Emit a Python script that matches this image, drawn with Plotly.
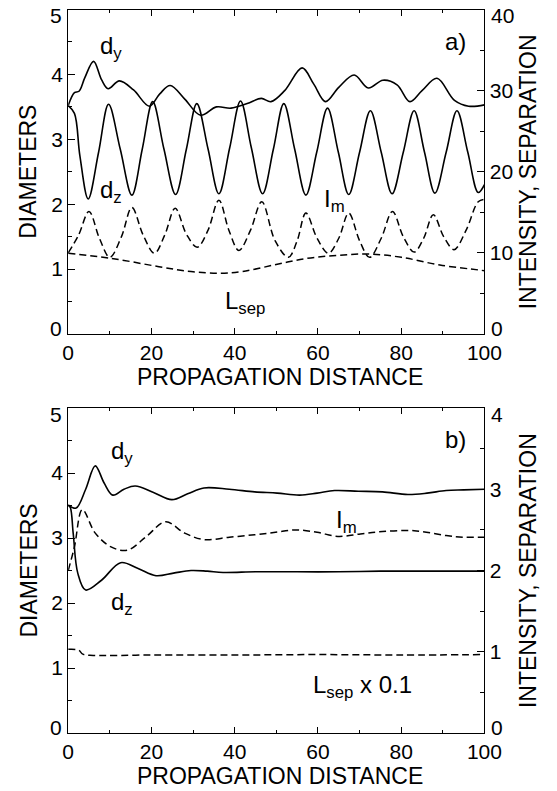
import plotly.graph_objects as go

# ---- panel a) : oscillating propagation ----
dy_a_x = [0, 1.5, 2.6, 4.0, 6.1, 8.0, 9.6, 12.3, 15.7, 19.5, 22.0, 24.5, 28.0, 31.8,
          35.6, 39.1, 43.0, 46.4, 48.7, 52.0, 56.2, 59.0, 61.8, 65.0, 68.7, 72.1,
          75.6, 79.0, 82.1, 85.0, 88.6, 92.8, 96.2, 100]
dy_a_y = [3.52, 3.72, 3.74, 3.95, 4.20, 3.92, 3.78, 3.90, 3.76, 3.51, 3.70, 3.83, 3.62, 3.37,
          3.50, 3.48, 3.55, 3.63, 3.58, 3.75, 4.10, 3.85, 3.58, 3.80, 3.99, 3.79,
          3.91, 3.84, 3.58, 3.75, 3.94, 3.60, 3.51, 3.53]

dz_a_x = [0, 1.5, 2.8, 4.8, 7.3, 9.7, 12.5, 15.3, 17.8, 20.3, 23.0, 25.8, 28.4, 30.9,
          33.6, 36.2, 38.8, 41.4, 44.0, 46.7, 49.3, 51.8, 54.4, 57.1, 59.7, 62.3,
          64.9, 67.4, 70.0, 72.6, 75.2, 77.8, 80.5, 83.1, 85.6, 88.1, 90.8, 93.4,
          96.0, 98.5, 100]
dz_a_y = [3.52, 3.40, 2.75, 2.08, 2.80, 3.54, 2.85, 2.14, 2.85, 3.58, 2.85, 2.15, 2.85, 3.55,
          2.85, 2.16, 2.87, 3.59, 2.87, 2.16, 2.85, 3.55, 2.85, 2.14, 2.80, 3.48,
          2.80, 2.15, 2.80, 3.44, 2.80, 2.16, 2.80, 3.44, 2.80, 2.17, 2.80, 3.44,
          2.80, 2.18, 2.30]

im_a_x = [0, 2.5, 5.0, 7.5, 10.0, 12.8, 15.3, 18.0, 20.7, 23.2, 25.7, 28.4, 31.0, 33.6,
          36.2, 38.6, 41.0, 43.8, 46.5, 49.7, 52.9, 55.0, 57.1, 59.8, 62.5, 65.0,
          67.4, 70.0, 72.4, 75.2, 77.9, 80.5, 83.1, 85.4, 87.7, 90.2, 92.7, 95.6,
          98.5, 100]
im_a_y = [10.0, 12.2, 15.1, 11.8, 9.45, 12.0, 15.6, 12.2, 9.95, 12.2, 15.5, 12.3, 10.7, 12.8,
          16.5, 12.8, 10.3, 12.8, 16.3, 11.5, 9.45, 11.5, 14.9, 11.8, 9.95, 11.8,
          14.9, 11.5, 9.45, 11.8, 15.1, 12.0, 10.1, 11.8, 14.7, 12.0, 10.4, 12.8,
          16.3, 16.6]

ls_a_x = [0, 10.3, 21.8, 29.5, 36.4, 41.8, 49.4, 57.1, 64.8, 72.4, 80.1, 89.3, 98.5, 100]
ls_a_y = [9.94, 9.33, 8.30, 7.70, 7.50, 7.70, 8.50, 9.30, 9.70, 9.85, 9.45, 8.50, 7.90, 7.80]

# ---- panel b) : damped propagation ----
dy_b_x = [0, 1.9, 4.2, 6.5, 8.6, 10.7, 13.4, 16.1, 20.5, 24.9, 28.7, 32.6, 38.7, 44.8,
          50.2, 55.6, 59.8, 64.0, 69.7, 75.5, 81.6, 86.2, 90.8, 95.0, 100]
dy_b_y = [3.51, 3.46, 3.75, 4.11, 3.85, 3.66, 3.75, 3.80, 3.70, 3.59, 3.68, 3.77, 3.75, 3.71,
          3.69, 3.66, 3.69, 3.73, 3.72, 3.71, 3.67, 3.69, 3.73, 3.74, 3.75]

dz_b_x = [0, 0.5, 1.2, 2.3, 4.2, 8.0, 12.6, 16.8, 21.1, 25.3, 29.5, 33.4, 37.2, 45,
          55, 65, 75, 85, 100]
dz_b_y = [3.50, 3.47, 3.07, 2.46, 2.20, 2.35, 2.62, 2.53, 2.42, 2.46, 2.50, 2.49, 2.47, 2.48,
          2.48, 2.48, 2.49, 2.49, 2.49]

im_b_x = [0, 1.5, 3.4, 6.5, 10.3, 14.2, 18.8, 23.4, 28.0, 32.6, 38.7, 44.8, 49.8, 54.8,
          59.8, 64.8, 70.2, 75.5, 83.1, 90.8, 95.0, 99.2, 100]
im_b_y = [2.00, 2.29, 2.75, 2.46, 2.29, 2.25, 2.42, 2.60, 2.46, 2.38, 2.41, 2.44, 2.47, 2.50,
          2.47, 2.42, 2.45, 2.48, 2.49, 2.43, 2.41, 2.41, 2.41]

ls_b_x = [0, 2.5, 3.5, 6, 20, 40, 60, 80, 100]
ls_b_y = [1.03, 1.02, 0.97, 0.955, 0.96, 0.96, 0.965, 0.96, 0.965]

# tick values of the axes
x_ticks = [0, 20, 40, 60, 80, 100]
diam_ticks = [0, 1, 2, 3, 4, 5]
int_ticks_a = [0, 10, 20, 30, 40]
int_ticks_b = [0, 1, 2, 3, 4]

FONT = "Liberation Sans, Arial, Helvetica, sans-serif"
W, H = 557, 791
SOLID = dict(color="black", width=1.6, shape="spline", smoothing=1.0)
DASH = dict(color="black", width=1.5, dash="7px,4px", shape="spline", smoothing=1.0)

fig = go.Figure()
fig.add_trace(go.Scatter(x=dy_a_x, y=dy_a_y, mode="lines", line=SOLID, xaxis="x", yaxis="y"))
fig.add_trace(go.Scatter(x=dz_a_x, y=dz_a_y, mode="lines", line=SOLID, xaxis="x", yaxis="y"))
fig.add_trace(go.Scatter(x=im_a_x, y=im_a_y, mode="lines", line=DASH, xaxis="x", yaxis="y2"))
fig.add_trace(go.Scatter(x=ls_a_x, y=ls_a_y, mode="lines", line=DASH, xaxis="x", yaxis="y2"))
fig.add_trace(go.Scatter(x=dy_b_x, y=dy_b_y, mode="lines", line=SOLID, xaxis="x2", yaxis="y3"))
fig.add_trace(go.Scatter(x=dz_b_x, y=dz_b_y, mode="lines", line=SOLID, xaxis="x2", yaxis="y3"))
fig.add_trace(go.Scatter(x=im_b_x, y=im_b_y, mode="lines", line=DASH, xaxis="x2", yaxis="y4"))
fig.add_trace(go.Scatter(x=ls_b_x, y=ls_b_y, mode="lines", line=DASH, xaxis="x2", yaxis="y4"))

# pixel layout of the two frames
left, right = 65, 500
top_a, bot_a = 9.5, 334
top_b, bot_b = 408, 733
xdom = [left / W, right / W]
ydom_a = [1 - bot_a / H, 1 - top_a / H]
ydom_b = [1 - bot_b / H, 1 - top_b / H]

TICK_SIZE = 21
tickfont = dict(family=FONT, size=TICK_SIZE, color="black")


def xax(anchor):
    return dict(domain=xdom, anchor=anchor, range=[0, 100],
                tickvals=x_ticks, ticktext=[str(v) for v in x_ticks],
                ticks="inside", ticklen=6, tickwidth=1.2, tickcolor="black",
                minor=dict(ticks="inside", ticklen=3, dtick=10, tick0=0,
                           tickcolor="black", tickwidth=1.2, showgrid=False),
                showline=True, linecolor="black", linewidth=1.2, mirror="ticks",
                showgrid=False, zeroline=False, tickfont=tickfont)


def yleft(dom, anchor):
    # inner labels come from the axis; the end labels are placed by hand further down
    inner = diam_ticks[1:-1]
    return dict(domain=dom, anchor=anchor, range=[diam_ticks[0], diam_ticks[-1]],
                tickvals=inner, ticktext=[str(v) for v in inner],
                ticks="inside", ticklen=7, tickwidth=1.2, tickcolor="black",
                minor=dict(ticks="inside", ticklen=4, dtick=0.5, tick0=0,
                           tickcolor="black", tickwidth=1.2, showgrid=False),
                showline=True, linecolor="black", linewidth=1.2,
                showgrid=False, zeroline=False, tickfont=tickfont)


def yright(dom, anchor, overlay, vals, minor):
    inner = vals[1:-1]
    return dict(domain=dom, anchor=anchor, overlaying=overlay, side="right",
                range=[vals[0], vals[-1]],
                tickvals=inner, ticktext=[str(v) for v in inner],
                ticks="inside", ticklen=7, tickwidth=1.2, tickcolor="black",
                minor=dict(ticks="inside", ticklen=4, dtick=minor, tick0=0,
                           tickcolor="black", tickwidth=1.2, showgrid=False),
                showline=True, linecolor="black", linewidth=1.2,
                showgrid=False, zeroline=False, tickfont=tickfont)


fig.update_layout(
    width=W, height=H, autosize=False,
    margin=dict(l=0, r=0, t=0, b=0),
    paper_bgcolor="white", plot_bgcolor="white",
    showlegend=False,
    xaxis=xax("y"),
    xaxis2=xax("y3"),
    yaxis=yleft(ydom_a, "x"),
    yaxis2=yright(ydom_a, "x", "y", int_ticks_a, 5),
    yaxis3=yleft(ydom_b, "x2"),
    yaxis4=yright(ydom_b, "x2", "y3", int_ticks_b, 0.5),
)


def px_text(text, px, py, size, xanchor="center", angle=0):
    fig.add_annotation(text=text, x=px / W, y=1 - py / H, xref="paper", yref="paper",
                       showarrow=False, font=dict(family=FONT, size=size, color="black"),
                       textangle=angle, xanchor=xanchor, yanchor="middle", borderpad=0)


# end labels of the vertical axes, pulled just inside the frame
for top, bot, lvals, rvals in ((top_a, bot_a, diam_ticks, int_ticks_a),
                               (top_b, bot_b, diam_ticks, int_ticks_b)):
    px_text(str(lvals[0]), left - 5, bot - 6, TICK_SIZE, "right")
    px_text(str(lvals[-1]), left - 5, top + 6, TICK_SIZE, "right")
    px_text(str(rvals[0]), right + 6, bot - 6, TICK_SIZE, "left")
    px_text(str(rvals[-1]), right + 6, top + 6, TICK_SIZE, "left")

LBL = dict(family=FONT, size=24, color="black")


def label(text, x, y, xref, yref):
    fig.add_annotation(text=text, x=x, y=y, xref=xref, yref=yref, showarrow=False,
                       font=LBL, xanchor="center", yanchor="middle")


# curve labels, panel a)
label("d<sub>y</sub>", 10.3, 4.42, "x", "y")
label("d<sub>z</sub>", 10.3, 2.19, "x", "y")
label("L<sub>sep</sub>", 42.4, 0.49, "x", "y")
label("I<sub>m</sub>", 63.9, 2.05, "x", "y")
label("a)", 93.1, 4.5, "x", "y")
# curve labels, panel b)
label("d<sub>y</sub>", 12.9, 4.32, "x2", "y3")
label("d<sub>z</sub>", 12.9, 2.0, "x2", "y3")
label("I<sub>m</sub>", 66.9, 3.26, "x2", "y3")
label("b)", 93.1, 4.52, "x2", "y3")
label("L<sub>sep</sub> x 0.1", 70.6, 0.72, "x2", "y3")

TITLE_SIZE = 23
mid_x = (left + right) / 2 + 4
px_text("PROPAGATION DISTANCE", mid_x, bot_a + 43, TITLE_SIZE)
px_text("PROPAGATION DISTANCE", mid_x, bot_b + 43, TITLE_SIZE)
px_text("DIAMETERS", 23, (top_a + bot_a) / 2, TITLE_SIZE, angle=-90)
px_text("DIAMETERS", 23, (top_b + bot_b) / 2, TITLE_SIZE, angle=-90)
px_text("INTENSITY, SEPARATION", 545, (top_a + bot_a) / 2, TITLE_SIZE, angle=-90)
px_text("INTENSITY, SEPARATION", 545, (top_b + bot_b) / 2, TITLE_SIZE, angle=-90)

fig.write_html("out.html")
